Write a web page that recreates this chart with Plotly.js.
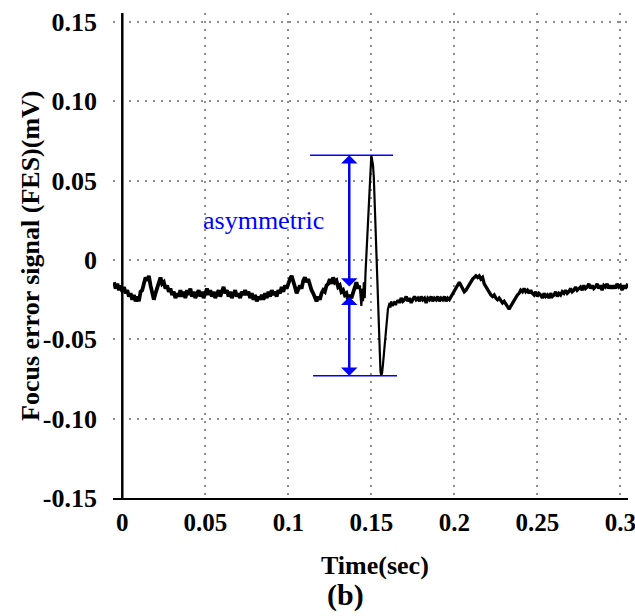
<!DOCTYPE html>
<html>
<head>
<meta charset="utf-8">
<script src="https://cdn.plot.ly/plotly-3.0.1.min.js"></script>
<style>html,body{margin:0;padding:0;background:#fff;}#chart{width:635px;height:616px;}</style>
</head>
<body>
<div id="chart"></div>
<script>
// Focus error signal (mV), sampled every 1 ms from t = -0.005 s to 0.143 s
var startA = -0.005, stepA = 0.001;
var fesA = [
-0.014,-0.018,-0.015,-0.019,-0.016,-0.020,-0.017,-0.021,-0.019,-0.023,
-0.021,-0.025,-0.022,-0.026,-0.023,-0.026,-0.020,-0.019,-0.015,-0.011,
-0.013,-0.010,-0.016,-0.021,-0.025,-0.021,-0.017,-0.014,-0.011,-0.015,
-0.014,-0.018,-0.016,-0.020,-0.018,-0.022,-0.020,-0.024,-0.021,-0.023,
-0.019,-0.023,-0.020,-0.024,-0.019,-0.022,-0.018,-0.023,-0.020,-0.024,
-0.021,-0.019,-0.023,-0.020,-0.024,-0.021,-0.018,-0.022,-0.019,-0.023,
-0.020,-0.024,-0.021,-0.019,-0.023,-0.020,-0.017,-0.021,-0.019,-0.023,
-0.020,-0.024,-0.022,-0.019,-0.023,-0.021,-0.024,-0.020,-0.022,-0.019,
-0.022,-0.020,-0.024,-0.021,-0.025,-0.022,-0.026,-0.023,-0.025,-0.022,
-0.025,-0.021,-0.024,-0.020,-0.023,-0.019,-0.022,-0.020,-0.023,-0.019,
-0.021,-0.017,-0.020,-0.016,-0.018,-0.014,-0.012,-0.010,-0.013,-0.017,
-0.021,-0.019,-0.016,-0.018,-0.013,-0.011,-0.014,-0.012,-0.016,-0.019,
-0.021,-0.024,-0.026,-0.023,-0.025,-0.021,-0.019,-0.020,-0.016,-0.015,
-0.012,-0.015,-0.011,-0.014,-0.013,-0.017,-0.016,-0.020,-0.019,-0.022,
-0.021,-0.025,-0.022,-0.024,-0.020,-0.017,-0.014,-0.018,-0.016
];
// The spike, sampled every 0.5 ms from t = 0.143 s to 0.166 s
var startB = 0.143, stepB = 0.0005;
var fesB = [
-0.016,-0.022,-0.029,-0.018,-0.026,-0.014,-0.024,-0.008,0.004,0.010,
0.018,0.030,0.048,0.058,0.066,0.063,0.060,0.052,0.035,0.017,
0.000,-0.015,-0.030,-0.045,-0.058,-0.070,-0.073,-0.071,-0.066,-0.060,
-0.052,-0.045,-0.038,-0.034,-0.031,-0.029,-0.027,-0.030,-0.026,-0.028,
-0.029,-0.027,-0.026,-0.028,-0.028,-0.026,-0.025
];
// Sampled every 1 ms from t = 0.166 s to 0.305 s
var startC = 0.166, stepC = 0.001;
var fesC = [
-0.025,-0.027,-0.024,-0.026,-0.025,-0.023,-0.026,-0.024,-0.027,-0.025,
-0.023,-0.025,-0.024,-0.026,-0.023,-0.025,-0.024,-0.027,-0.024,-0.025,
-0.023,-0.026,-0.024,-0.025,-0.023,-0.026,-0.024,-0.025,-0.023,-0.026,
-0.024,-0.025,-0.023,-0.022,-0.020,-0.018,-0.015,-0.014,-0.016,-0.018,
-0.020,-0.019,-0.017,-0.015,-0.013,-0.012,-0.011,-0.010,-0.011,-0.010,
-0.012,-0.011,-0.015,-0.017,-0.019,-0.021,-0.022,-0.023,-0.022,-0.024,
-0.025,-0.024,-0.026,-0.027,-0.026,-0.028,-0.029,-0.031,-0.029,-0.027,
-0.025,-0.024,-0.022,-0.021,-0.019,-0.020,-0.018,-0.020,-0.019,-0.021,
-0.019,-0.021,-0.022,-0.020,-0.023,-0.021,-0.022,-0.024,-0.021,-0.023,
-0.022,-0.024,-0.021,-0.023,-0.022,-0.020,-0.023,-0.021,-0.022,-0.020,
-0.021,-0.019,-0.021,-0.020,-0.018,-0.020,-0.019,-0.017,-0.019,-0.018,
-0.017,-0.019,-0.016,-0.018,-0.017,-0.015,-0.018,-0.016,-0.018,-0.017,
-0.015,-0.018,-0.016,-0.019,-0.016,-0.017,-0.015,-0.018,-0.016,-0.018,
-0.016,-0.018,-0.015,-0.017,-0.016,-0.019,-0.016,-0.018,-0.016,-0.017
];
var xTickVals = [0, 0.05, 0.1, 0.15, 0.2, 0.25, 0.3];
var xTickText = ['0', '0.05', '0.1', '0.15', '0.2', '0.25', '0.3'];
var yTickVals = [0.15, 0.10, 0.05, 0, -0.05, -0.10, -0.15];
var yTickText = ['0.15', '0.10', '0.05', '0', '-0.05', '-0.10', '-0.15'];

var allFes = fesA.concat(fesB, fesC);
var peak = Math.max.apply(null, allFes);
var trough = Math.min.apply(null, allFes);

var serif = 'Liberation Serif, Times New Roman, serif';
var blue = '#0000ff';
var bold = {family: serif, size: 26, color: '#000', weight: 'bold'};
var boldX = {family: serif, size: 25, color: '#000', weight: 'bold'};

function seg(y, x0, dx, w) {
  return {y: y, x0: x0, dx: dx, type: 'scatter', mode: 'lines',
          line: {color: '#000', width: w}, hoverinfo: 'skip', name: 'FES'};
}
var traces = [seg(fesA, startA, stepA, 3.8), seg(fesB, startB, stepB, 2.2), seg(fesC, startC, stepC, 3.3)];

var layout = {
  width: 635, height: 616,
  margin: {l: 113, r: 7, t: 13, b: 118},
  paper_bgcolor: '#fff', plot_bgcolor: '#fff',
  showlegend: false,
  xaxis: {
    range: [-0.0056, 0.3046],
    tickvals: xTickVals, ticktext: xTickText,
    showgrid: true, gridcolor: '#8c8c8c', gridwidth: 2, griddash: '2px,6px',
    zeroline: false, showline: true, linecolor: '#000', linewidth: 2,
    ticks: '', tickfont: boldX, ticklabelstandoff: 1, ticklabeloverflow: 'allow'
  },
  yaxis: {
    range: [-0.15, 0.1557],
    tickvals: yTickVals, ticktext: yTickText,
    showgrid: true, gridcolor: '#8c8c8c', gridwidth: 2, griddash: '2px,6px',
    zeroline: false, showline: false,
    ticks: '', tickfont: bold, ticklabelstandoff: 15, ticklabeloverflow: 'allow'
  },
  shapes: [
    {type: 'line', xref: 'x', yref: 'paper', x0: 0, x1: 0, y0: 0, y1: 1,
     line: {color: '#000', width: 2.5}},
    {type: 'line', xref: 'x', yref: 'y', x0: 0.1131, x1: 0.1631, y0: peak, y1: peak,
     line: {color: blue, width: 1.5}},
    {type: 'line', xref: 'x', yref: 'y', x0: 0.1149, x1: 0.1655, y0: trough, y1: trough,
     line: {color: blue, width: 1.5}}
  ],
  annotations: [
    {x: 0.1367, y: peak, ax: 0.1367, ay: -0.0177, xref: 'x', yref: 'y', axref: 'x', ayref: 'y',
     text: '', showarrow: true, arrowside: 'end+start', arrowhead: 1, startarrowhead: 1,
     arrowsize: 1.1, startarrowsize: 1.1, arrowwidth: 2.5, arrowcolor: blue, standoff: 0, startstandoff: 0},
    {x: 0.1367, y: trough, ax: 0.1367, ay: -0.0222, xref: 'x', yref: 'y', axref: 'x', ayref: 'y',
     text: '', showarrow: true, arrowside: 'end+start', arrowhead: 1, startarrowhead: 1,
     arrowsize: 1.1, startarrowsize: 1.1, arrowwidth: 2.5, arrowcolor: blue, standoff: 0, startstandoff: 0},
    {x: 0.0848, y: 0.0246, xref: 'x', yref: 'y', text: 'asymmetric', showarrow: false,
     font: {family: serif, size: 26, color: blue}, xanchor: 'center', yanchor: 'middle'},
    {x: 0.5087, y: -0.1402, xref: 'paper', yref: 'paper', text: 'Time(sec)', showarrow: false,
     font: bold, xanchor: 'center', yanchor: 'middle'},
    {x: -0.1592, y: 0.499, xref: 'paper', yref: 'paper', text: 'Focus error signal (FES)(mV)', showarrow: false,
     textangle: -90, font: bold, xanchor: 'center', yanchor: 'middle'},
    {x: 0.4505, y: -0.2, xref: 'paper', yref: 'paper', text: '(b)', showarrow: false,
     font: {family: serif, size: 30, color: '#000', weight: 'bold'}, xanchor: 'center', yanchor: 'middle'}
  ]
};

Plotly.newPlot('chart', traces, layout, {displayModeBar: false, staticPlot: true});
</script>
</body>
</html>
